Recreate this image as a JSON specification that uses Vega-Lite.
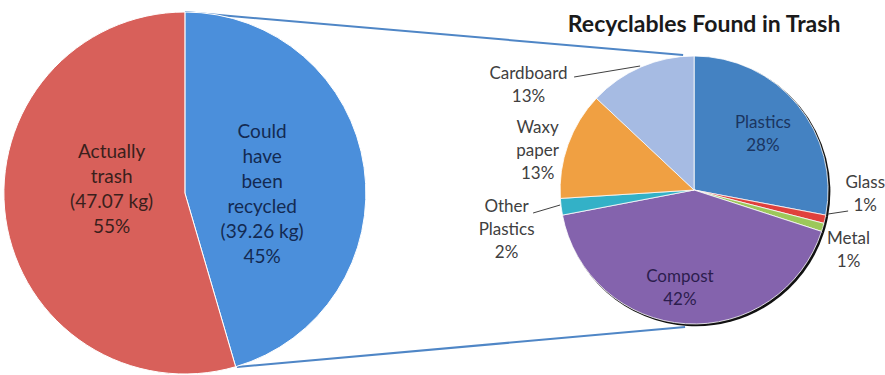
{
  "$schema": "https://vega.github.io/schema/vega-lite/v6.json",
  "width": 885,
  "height": 375,
  "autosize": {"type": "none"},
  "padding": 0,
  "background": "white",
  "config": {"view": {"stroke": null}, "font": "Lato", "text": {"font": "Lato"}},
  "data": {"name": "annotation", "values": [{"note": "connector"}]},
  "datasets": {
    "overall": [
      {"category": "Could have been recycled", "kg": 39.26, "label": "Could\nhave\nbeen\nrecycled\n(39.26 kg)\n45%"},
      {"category": "Actually trash", "kg": 47.07, "label": "Actually\ntrash\n(47.07 kg)\n55%"}
    ],
    "recyclables": [
      {"category": "Plastics", "pct": 28, "label": "Plastics\n28%"},
      {"category": "Glass", "pct": 1, "label": "Glass\n1%"},
      {"category": "Metal", "pct": 1, "label": "Metal\n1%"},
      {"category": "Compost", "pct": 42, "label": "Compost\n42%"},
      {"category": "Other Plastics", "pct": 2, "label": "Other\nPlastics\n2%"},
      {"category": "Waxy paper", "pct": 13, "label": "Waxy\npaper\n13%"},
      {"category": "Cardboard", "pct": 13, "label": "Cardboard\n13%"}
    ]
  },
  "layer": [
    {
      "mark": {"type": "rule", "color": "#4f86c6", "strokeWidth": 2, "x2Offset": -11},
      "encoding": {
        "x": {"datum": "All trash", "type": "nominal", "axis": null,
              "scale": {"type": "point", "domain": ["All trash", "Recyclables"], "padding": 0.369, "align": 0.492}},
        "x2": {"datum": "Recyclables"},
        "y": {"datum": 175.5, "type": "quantitative", "axis": null,
              "scale": {"domain": [-187.5, 187.5], "nice": false, "zero": false}},
        "y2": {"datum": 132.5}
      }
    },
    {
      "mark": {"type": "rule", "color": "#4f86c6", "strokeWidth": 2, "xOffset": 52, "x2Offset": -9},
      "encoding": {
        "x": {"datum": "All trash", "type": "nominal"},
        "x2": {"datum": "Recyclables"},
        "y": {"datum": -179.5, "type": "quantitative"},
        "y2": {"datum": -139.5}
      }
    },
    {
      "data": {"name": "recyclables"},
      "transform": [{"window": [{"op": "row_number", "as": "seq"}]}],
      "mark": {"type": "arc", "radius": 134.5, "color": "#111111", "xOffset": 1.8, "yOffset": 1.8},
      "encoding": {
        "x": {"datum": "Recyclables", "type": "nominal"},
        "y": {"datum": -2.5, "type": "quantitative"},
        "theta": {"field": "pct", "type": "quantitative", "stack": "normalize"},
        "order": {"field": "seq"}
      }
    },
    {
      "data": {"name": "overall"},
      "transform": [{"window": [{"op": "row_number", "as": "seq"}]}],
      "mark": {"type": "arc", "radius": 181, "stroke": "#ffffff", "strokeWidth": 1},
      "encoding": {
        "x": {"datum": "All trash", "type": "nominal"},
        "y": {"datum": -5.5, "type": "quantitative"},
        "theta": {"field": "kg", "type": "quantitative", "stack": "normalize"},
        "order": {"field": "seq"},
        "color": {"field": "category", "type": "nominal", "legend": null,
                  "scale": {"domain": ["Could have been recycled", "Actually trash", "Plastics", "Glass", "Metal", "Compost", "Other Plastics", "Waxy paper", "Cardboard"],
                            "range": ["#4b8fdb", "#d8605a", "#4482c2", "#e0403c", "#9cc85a", "#8463ad", "#33b1c7", "#f0a042", "#a6bbe3"]}}
      }
    },
    {
      "data": {"name": "recyclables"},
      "transform": [{"window": [{"op": "row_number", "as": "seq"}]}],
      "mark": {"type": "arc", "radius": 134, "stroke": "#ffffff", "strokeWidth": 0.8},
      "encoding": {
        "x": {"datum": "Recyclables", "type": "nominal"},
        "y": {"datum": -2.5, "type": "quantitative"},
        "theta": {"field": "pct", "type": "quantitative", "stack": "normalize"},
        "order": {"field": "seq"},
        "color": {"field": "category", "type": "nominal"}
      }
    },
    {
      "mark": {"type": "rule", "color": "#404040", "strokeWidth": 1, "xOffset": -120, "x2Offset": -54},
      "encoding": {
        "x": {"datum": "Recyclables", "type": "nominal"},
        "x2": {"datum": "Recyclables"},
        "y": {"datum": 110.5, "type": "quantitative"},
        "y2": {"datum": 121.5}
      }
    },
    {
      "mark": {"type": "rule", "color": "#404040", "strokeWidth": 1, "xOffset": 134, "x2Offset": 154},
      "encoding": {
        "x": {"datum": "Recyclables", "type": "nominal"},
        "x2": {"datum": "Recyclables"},
        "y": {"datum": -26.5, "type": "quantitative"},
        "y2": {"datum": -23.5}
      }
    },
    {
      "mark": {"type": "rule", "color": "#404040", "strokeWidth": 1, "xOffset": -161, "x2Offset": -134},
      "encoding": {
        "x": {"datum": "Recyclables", "type": "nominal"},
        "x2": {"datum": "Recyclables"},
        "y": {"datum": -25.5, "type": "quantitative"},
        "y2": {"datum": -17.5}
      }
    },
    {
      "data": {"name": "overall"},
      "transform": [{"window": [{"op": "row_number", "as": "seq"}]}],
      "mark": {"type": "text", "radius": 78, "dy": -49.5, "fontSize": 19, "lineHeight": 25, "lineBreak": "\n", "align": "center", "baseline": "middle", "color": "#132a52"},
      "encoding": {
        "x": {"datum": "All trash", "type": "nominal"},
        "y": {"datum": -5.5, "type": "quantitative"},
        "theta": {"field": "kg", "type": "quantitative", "stack": "normalize"},
        "order": {"field": "seq"},
        "text": {"condition": {"test": "datum.category === 'Could have been recycled'", "field": "label"}, "value": ""}
      }
    },
    {
      "data": {"name": "overall"},
      "transform": [{"window": [{"op": "row_number", "as": "seq"}]}],
      "mark": {"type": "text", "radius": 74, "dy": -51.5, "fontSize": 19, "lineHeight": 25, "lineBreak": "\n", "align": "center", "baseline": "middle", "color": "#3a1f1c"},
      "encoding": {
        "x": {"datum": "All trash", "type": "nominal"},
        "y": {"datum": -5.5, "type": "quantitative"},
        "theta": {"field": "kg", "type": "quantitative", "stack": "normalize"},
        "order": {"field": "seq"},
        "text": {"condition": {"test": "datum.category === 'Actually trash'", "field": "label"}, "value": ""}
      }
    },
    {
      "data": {"name": "recyclables"},
      "transform": [{"window": [{"op": "row_number", "as": "seq"}]}],
      "mark": {"type": "text", "radius": 88, "dx": 1, "dy": -10.5, "fontSize": 17, "lineHeight": 23, "lineBreak": "\n", "align": "center", "baseline": "middle", "color": "#1b3560"},
      "encoding": {
        "x": {"datum": "Recyclables", "type": "nominal"},
        "y": {"datum": -2.5, "type": "quantitative"},
        "theta": {"field": "pct", "type": "quantitative", "stack": "normalize"},
        "order": {"field": "seq"},
        "text": {"condition": {"test": "datum.category === 'Plastics'", "field": "label"}, "value": ""}
      }
    },
    {
      "data": {"name": "recyclables"},
      "transform": [{"window": [{"op": "row_number", "as": "seq"}]}],
      "mark": {"type": "text", "radius": 99, "dx": -8, "dy": -11.5, "fontSize": 17, "lineHeight": 23, "lineBreak": "\n", "align": "center", "baseline": "middle", "color": "#2c1d4d"},
      "encoding": {
        "x": {"datum": "Recyclables", "type": "nominal"},
        "y": {"datum": -2.5, "type": "quantitative"},
        "theta": {"field": "pct", "type": "quantitative", "stack": "normalize"},
        "order": {"field": "seq"},
        "text": {"condition": {"test": "datum.category === 'Compost'", "field": "label"}, "value": ""}
      }
    },
    {
      "data": {"name": "recyclables"},
      "transform": [{"window": [{"op": "row_number", "as": "seq"}]}],
      "mark": {"type": "text", "radius": 160, "dx": 15, "dy": -41.5, "fontSize": 17, "lineHeight": 23, "lineBreak": "\n", "align": "center", "baseline": "middle", "color": "#404040"},
      "encoding": {
        "x": {"datum": "Recyclables", "type": "nominal"},
        "y": {"datum": -2.5, "type": "quantitative"},
        "theta": {"field": "pct", "type": "quantitative", "stack": "normalize"},
        "order": {"field": "seq"},
        "text": {"condition": {"test": "datum.category === 'Glass'", "field": "label"}, "value": ""}
      }
    },
    {
      "data": {"name": "recyclables"},
      "transform": [{"window": [{"op": "row_number", "as": "seq"}]}],
      "mark": {"type": "text", "radius": 165, "dx": -4, "dy": 2.5, "fontSize": 17, "lineHeight": 23, "lineBreak": "\n", "align": "center", "baseline": "middle", "color": "#404040"},
      "encoding": {
        "x": {"datum": "Recyclables", "type": "nominal"},
        "y": {"datum": -2.5, "type": "quantitative"},
        "theta": {"field": "pct", "type": "quantitative", "stack": "normalize"},
        "order": {"field": "seq"},
        "text": {"condition": {"test": "datum.category === 'Metal'", "field": "label"}, "value": ""}
      }
    },
    {
      "data": {"name": "recyclables"},
      "transform": [{"window": [{"op": "row_number", "as": "seq"}]}],
      "mark": {"type": "text", "radius": 191, "dx": 2, "dy": -7, "fontSize": 17, "lineHeight": 23, "lineBreak": "\n", "align": "center", "baseline": "middle", "color": "#404040"},
      "encoding": {
        "x": {"datum": "Recyclables", "type": "nominal"},
        "y": {"datum": -2.5, "type": "quantitative"},
        "theta": {"field": "pct", "type": "quantitative", "stack": "normalize"},
        "order": {"field": "seq"},
        "text": {"condition": {"test": "datum.category === 'Other Plastics'", "field": "label"}, "value": ""}
      }
    },
    {
      "data": {"name": "recyclables"},
      "transform": [{"window": [{"op": "row_number", "as": "seq"}]}],
      "mark": {"type": "text", "radius": 161, "dx": -5, "dy": -7, "fontSize": 17, "lineHeight": 23, "lineBreak": "\n", "align": "center", "baseline": "middle", "color": "#404040"},
      "encoding": {
        "x": {"datum": "Recyclables", "type": "nominal"},
        "y": {"datum": -2.5, "type": "quantitative"},
        "theta": {"field": "pct", "type": "quantitative", "stack": "normalize"},
        "order": {"field": "seq"},
        "text": {"condition": {"test": "datum.category === 'Waxy paper'", "field": "label"}, "value": ""}
      }
    },
    {
      "data": {"name": "recyclables"},
      "transform": [{"window": [{"op": "row_number", "as": "seq"}]}],
      "mark": {"type": "text", "radius": 150, "dx": -106, "dy": 21.5, "fontSize": 17, "lineHeight": 23, "lineBreak": "\n", "align": "center", "baseline": "middle", "color": "#404040"},
      "encoding": {
        "x": {"datum": "Recyclables", "type": "nominal"},
        "y": {"datum": -2.5, "type": "quantitative"},
        "theta": {"field": "pct", "type": "quantitative", "stack": "normalize"},
        "order": {"field": "seq"},
        "text": {"condition": {"test": "datum.category === 'Cardboard'", "field": "label"}, "value": ""}
      }
    },
    {
      "mark": {"type": "text", "dx": 10, "fontSize": 23, "fontWeight": "bold", "align": "center", "baseline": "middle", "color": "#1a1a1a"},
      "encoding": {
        "x": {"datum": "Recyclables", "type": "nominal"},
        "y": {"datum": 162.5, "type": "quantitative"},
        "text": {"value": "Recyclables Found in Trash"}
      }
    }
  ]
}
